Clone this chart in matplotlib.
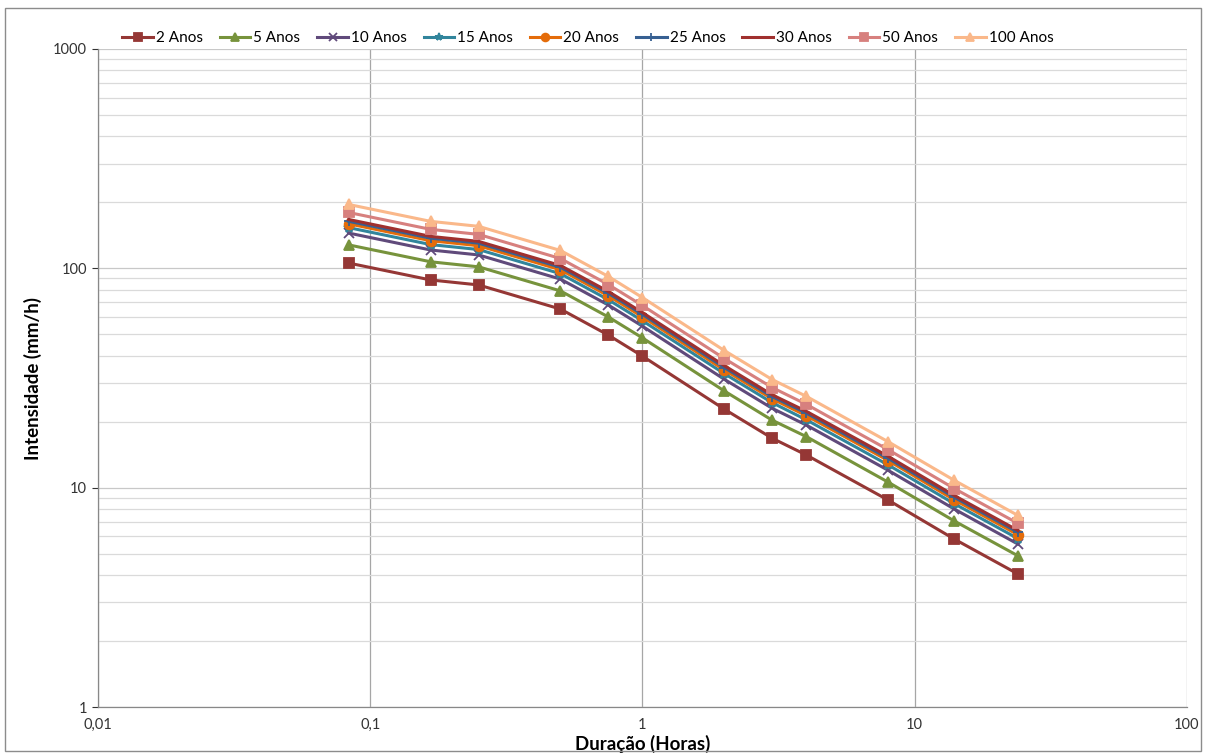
import matplotlib

matplotlib.use("Agg")
import matplotlib.pyplot as plt
from matplotlib.ticker import FixedLocator, FixedFormatter, LogLocator, NullFormatter

plt.rcParams["font.family"] = ["Lato", "DejaVu Sans"]

# Durations in hours (5, 10, 15, 30, 45 min, 1, 2, 3, 4, 8, 14, 24 h)
durations = [0.0833, 0.1667, 0.25, 0.5, 0.75, 1, 2, 3, 4, 8, 14, 24]

labels = ["2 Anos", "5 Anos", "10 Anos", "15 Anos", "20 Anos",
          "25 Anos", "30 Anos", "50 Anos", "100 Anos"]

i_2 = [105.7, 88.5, 84.0, 65.2, 49.6, 39.8, 22.8, 16.8, 14.1, 8.78, 5.83, 4.04]
i_5 = [127.9, 107.1, 101.6, 78.9, 60.0, 48.2, 27.6, 20.3, 17.1, 10.6, 7.05, 4.89]
i_10 = [144.8, 121.2, 115.1, 89.3, 68.0, 54.5, 31.2, 23.0, 19.3, 12.0, 7.99, 5.53]
i_15 = [153.3, 128.3, 121.8, 94.5, 71.9, 57.7, 33.1, 24.4, 20.4, 12.7, 8.45, 5.86]
i_20 = [159.6, 133.6, 126.8, 98.5, 74.9, 60.1, 34.4, 25.4, 21.3, 13.3, 8.80, 6.10]
i_25 = [163.8, 137.2, 130.2, 101.1, 76.9, 61.7, 35.3, 26.0, 21.9, 13.6, 9.04, 6.26]
i_30 = [167.0, 139.8, 132.7, 103.0, 78.4, 62.9, 36.0, 26.5, 22.3, 13.9, 9.21, 6.38]
i_50 = [179.7, 150.5, 142.8, 110.8, 84.3, 67.7, 38.8, 28.6, 24.0, 14.9, 9.91, 6.87]
i_100 = [195.5, 163.7, 155.4, 120.6, 91.8, 73.6, 42.2, 31.1, 26.1, 16.2, 10.8, 7.47]

series = [i_2, i_5, i_10, i_15, i_20, i_25, i_30, i_50, i_100]
colors = ["#953735", "#77933C", "#604A7B", "#31859C", "#E46C0A",
          "#376092", "#A0302E", "#D7807E", "#FAB88A"]
markers = ["s", "^", "x", "*", "o", "+", None, "s", "^"]

fig = plt.figure(figsize=(12.06, 7.53), dpi=100)
ax = fig.add_axes([0.0813, 0.061, 0.9027, 0.874])

for vals, lab, c, m in zip(series, labels, colors, markers):
    ax.plot(durations, vals, color=c, lw=2.2, marker=m, markersize=7,
            markeredgewidth=1.3, label=lab)

ax.set_xscale("log")
ax.set_yscale("log")
ax.set_xlim(0.01, 100)
ax.set_ylim(1, 1000)

ax.xaxis.set_major_locator(FixedLocator([0.01, 0.1, 1, 10, 100]))
ax.xaxis.set_major_formatter(FixedFormatter(["0,01", "0,1", "1", "10", "100"]))
ax.xaxis.set_minor_locator(FixedLocator([]))
ax.yaxis.set_major_locator(FixedLocator([1, 10, 100, 1000]))
ax.yaxis.set_major_formatter(FixedFormatter(["1", "10", "100", "1000"]))
ax.yaxis.set_minor_locator(LogLocator(base=10, subs=range(2, 10)))
ax.yaxis.set_minor_formatter(NullFormatter())

ax.grid(True, which="major", axis="x", color="#A6A6A6", lw=0.9)
ax.grid(True, which="major", axis="y", color="#C8C8C8", lw=0.9)
ax.grid(True, which="minor", axis="y", color="#DADADA", lw=0.9)
ax.set_axisbelow(True)

for s in ["top", "right"]:
    ax.spines[s].set_visible(False)
for s in ["left", "bottom"]:
    ax.spines[s].set_color("#888888")
    ax.spines[s].set_linewidth(0.9)

ax.tick_params(axis="both", which="major", labelsize=10.5, colors="#333333",
               length=4, width=0.8)
ax.tick_params(axis="y", which="minor", length=0)
ax.tick_params(axis="x", which="major", direction="out", length=0, pad=8)
ax.tick_params(axis="y", which="major", direction="out", pad=4)

ax.set_xlabel("Duração (Horas)", fontsize=13.5, fontweight="bold", labelpad=2)
ax.set_ylabel("Intensidade (mm/h)", fontsize=13.5, fontweight="bold", labelpad=8)

ax.legend(loc="lower center", bbox_to_anchor=(0.45, 0.985), ncol=9,
          frameon=False, fontsize=11, handlelength=2.0, handletextpad=0.2,
          columnspacing=1.1, markerscale=0.8)

# outer chart border
fig.patches.append(plt.Rectangle((0.004, 0.002), 0.992, 0.988, transform=fig.transFigure,
                                 fill=False, edgecolor="#8C8C8C", lw=1.0))

fig.savefig("out.png", dpi=100)
